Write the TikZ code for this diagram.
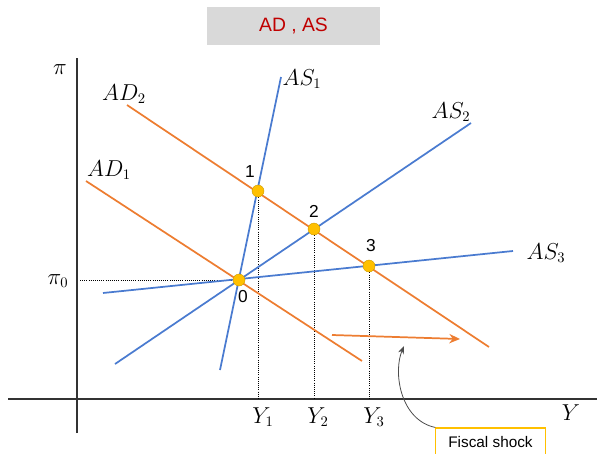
\documentclass[tikz,border=0pt]{standalone}
\usepackage{fontspec}
\newfontfamily\sansfont{Liberation Sans}
\usetikzlibrary{arrows.meta}
\definecolor{asblue}{HTML}{4A7BD0}
\definecolor{adorange}{HTML}{ED7D31}
\definecolor{dotgold}{HTML}{FFC000}
\definecolor{titlered}{HTML}{C00000}
\begin{document}
\begin{tikzpicture}[x=0.75pt,y=-0.75pt,
  asline/.style={asblue,line width=1.3pt},
  adline/.style={adorange,line width=1.3pt},
  guide/.style={densely dotted,line width=0.6pt},
  eqdot/.style={circle,fill=dotgold,draw=dotgold!80!black,line width=0.3pt,inner sep=0pt,minimum size=9pt},
  lbl/.style={font=\fontsize{16}{18}\selectfont},
  num/.style={font=\sansfont\fontsize{13}{15}\selectfont}]
  \useasboundingbox (0,0) rectangle (597,454);
  % title
  \node[fill=black!15,minimum width=130pt,minimum height=29pt,text=titlered,font=\sansfont\fontsize{14.5}{16}\selectfont] (title) at (293.5,26) {AD , AS};
  % axes
  \draw[line width=0.8pt,black!80] (77,433) -- (77,58);
  \draw[line width=0.8pt,black!80] (8,399) -- (597,399);
  \node[lbl] (pilbl) at (60,70) {$\pi$};
  \node[lbl] (ylbl) at (571,413) {$Y$};
  % equilibria
  \coordinate (e0) at (239,280);
  \coordinate (e1) at (258,191);
  \coordinate (e2) at (314,229);
  \coordinate (e3) at (369,266);
  % guides
  \draw[guide] (80,280) -- (e0);
  \draw[guide] (e1) -- (e1 |- 0,399);
  \draw[guide] (e2) -- (e2 |- 0,399);
  \draw[guide] (e3) -- (e3 |- 0,399);
  \node[lbl] (pi0) at (58,281) {$\pi_0$};
  \node[lbl] (y1) at (263,417) {$Y_1$};
  \node[lbl] (y2) at (318,417) {$Y_2$};
  \node[lbl] (y3) at (374,417) {$Y_3$};
  % AD curves
  \draw[adline] (86,181) -- (362,361);
  \draw[adline] (127,105) -- (489,347);
  \node[lbl] (ad1) at (109,170) {$AD_1$};
  \node[lbl] (ad2) at (124,94) {$AD_2$};
  % AS curves
  \draw[asline] (220,370) -- (281,77);
  \draw[asline] (115,364) -- (471,123);
  \draw[asline] (103,293) -- (513,251);
  \node[lbl] (as1) at (302,79) {$AS_1$};
  \node[lbl] (as2) at (451,112) {$AS_2$};
  \node[lbl] (as3) at (546,253) {$AS_3$};
  % dots
  \node[eqdot] (p0) at (e0) {};
  \node[eqdot] (p1) at (e1) {};
  \node[eqdot] (p2) at (e2) {};
  \node[eqdot] (p3) at (e3) {};
  \node[num] (n0) at (243,297) {0};
  \node[num] (n1) at (250,172) {1};
  \node[num] (n2) at (314,211) {2};
  \node[num] (n3) at (371,246) {3};
  % shift
  \coordinate (shiftA) at (332,335);
  \coordinate (shiftB) at (460,339);
  \draw[adline,-{Stealth[length=8pt,width=7pt]}] (shiftA) -- (shiftB);
  \node[draw=dotgold,line width=0.8pt,minimum width=82pt,minimum height=21pt,font=\sansfont\fontsize{11.5}{13}\selectfont] (fs) at (490.5,442) {Fiscal shock};
  \coordinate (shockTip) at (404,346);
  \draw[black!70,line width=0.6pt,-{Stealth[length=6pt]}] (fs.north west) .. controls (400,420) and (393,372) .. (shockTip);
\end{tikzpicture}
\end{document}
